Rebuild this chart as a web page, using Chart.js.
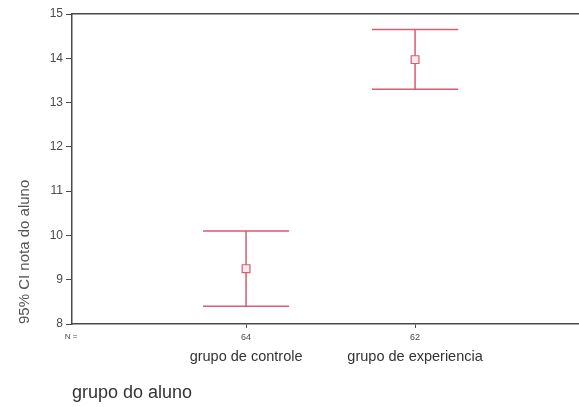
<!DOCTYPE html>
<html>
<head>
<meta charset="utf-8">
<script src="https://cdn.jsdelivr.net/npm/chart.js@4/dist/chart.umd.min.js"></script>
<style>
  html, body { margin: 0; padding: 0; background: #fff; }
  canvas { display: block; }
</style>
</head>
<body>
<canvas id="c" width="579" height="407"></canvas>
<script>
// Student grade means with 95% confidence intervals, per group
const groups = ['grupo de controle', 'grupo de experiencia'];
const groupN = [64, 62];
const groupPos = [1, 2];
const meanScore = [9.25, 13.97];
const ciLower = [8.4, 13.3];
const ciUpper = [10.1, 14.65];
const yTicks = [8, 9, 10, 11, 12, 13, 14, 15];

const ink = '#4a4a4a';
const barColor = '#d95c72';
const fontFamily = '"Liberation Sans", Arial, Helvetica, sans-serif';
const capHalf = 0.255; // half width of the whisker caps, in x units
const xMin = -0.03, xMax = 2.97;

// Whiskers: vertical line from lower to upper bound plus horizontal caps
const errorBars = {
  id: 'errorBars',
  beforeDatasetsDraw(chart) {
    const { ctx, scales: { x, y } } = chart;
    ctx.save();
    ctx.strokeStyle = barColor;
    ctx.lineWidth = 1.5;
    groupPos.forEach((g, i) => {
      const px = x.getPixelForValue(g);
      const l = x.getPixelForValue(g - capHalf);
      const r = x.getPixelForValue(g + capHalf);
      const yl = y.getPixelForValue(ciLower[i]);
      const yu = y.getPixelForValue(ciUpper[i]);
      ctx.beginPath();
      ctx.moveTo(px, yl); ctx.lineTo(px, yu);
      ctx.moveTo(l, yl); ctx.lineTo(r, yl);
      ctx.moveTo(l, yu); ctx.lineTo(r, yu);
      ctx.stroke();
    });
    ctx.restore();
  },
  afterDraw(chart) {
    // "N =" caption in front of the group sizes
    const { ctx, scales: { x } } = chart;
    ctx.save();
    ctx.fillStyle = ink;
    ctx.font = '8px ' + fontFamily;
    ctx.textAlign = 'center';
    ctx.textBaseline = 'middle';
    ctx.fillText('N =', x.left - 1, x.top + 13);
    ctx.restore();
  }
};

const fixedTicks = vals => scale => { scale.ticks = vals.map(v => ({ value: v })); };
const fitHorizontal = h => s => { s.height = h; s.paddingLeft = 0; s.paddingRight = 0; };

new Chart(document.getElementById('c'), {
  type: 'scatter',
  data: {
    datasets: [{
      data: groupPos.map((g, i) => ({ x: g, y: meanScore[i] })),
      pointStyle: 'rect',
      radius: 5.5,
      hoverRadius: 5.5,
      borderWidth: 1.2,
      borderColor: barColor,
      backgroundColor: '#fcecef'
    }]
  },
  options: {
    responsive: false,
    animation: false,
    devicePixelRatio: 1,
    layout: { autoPadding: false, padding: { top: 14, left: 0, right: 0, bottom: 0 } },
    plugins: { legend: { display: false }, tooltip: { enabled: false } },
    scales: {
      xTop: {
        type: 'linear', position: 'top', min: xMin, max: xMax,
        ticks: { display: false },
        grid: { display: false, drawTicks: false },
        border: { display: true, color: ink, width: 1.5 },
        afterFit: fitHorizontal(0)
      },
      x: {
        type: 'linear', position: 'bottom', min: xMin, max: xMax,
        afterBuildTicks: fixedTicks(groupPos),
        ticks: {
          autoSkip: false, maxRotation: 0, padding: 4, color: ink,
          font: { size: 9, family: fontFamily },
          callback: v => groupN[groupPos.indexOf(v)]
        },
        grid: { drawOnChartArea: false, drawTicks: true, tickLength: 4, color: ink, lineWidth: 1 },
        border: { color: ink, width: 1.5 },
        afterFit: fitHorizontal(20)
      },
      x2: {
        type: 'linear', position: 'bottom', min: xMin, max: xMax,
        afterBuildTicks: fixedTicks(groupPos),
        ticks: {
          autoSkip: false, maxRotation: 0, padding: 4, color: '#333',
          font: { size: 14.5, family: fontFamily },
          callback: v => groups[groupPos.indexOf(v)]
        },
        grid: { display: false, drawTicks: false },
        border: { display: false },
        title: {
          display: true, text: 'grupo do aluno', align: 'start', color: '#333',
          font: { size: 18, family: fontFamily },
          padding: { top: 0, bottom: 3 }
        },
        afterFit: fitHorizontal(63)
      },
      y: {
        type: 'linear', position: 'left', min: 8, max: 15,
        afterBuildTicks: fixedTicks(yTicks),
        ticks: { padding: 3, color: ink, font: { size: 12, family: fontFamily } },
        grid: { drawOnChartArea: false, drawTicks: true, tickLength: 6, color: ink },
        border: { color: ink, width: 1.5 },
        title: {
          display: true, text: '95% CI nota do aluno', align: 'start', color: '#555',
          font: { size: 15, family: fontFamily },
          padding: { top: 16, bottom: 0 }
        },
        afterFit: s => { s.width = 72; }
      }
    }
  },
  plugins: [errorBars]
});
</script>
</body>
</html>
